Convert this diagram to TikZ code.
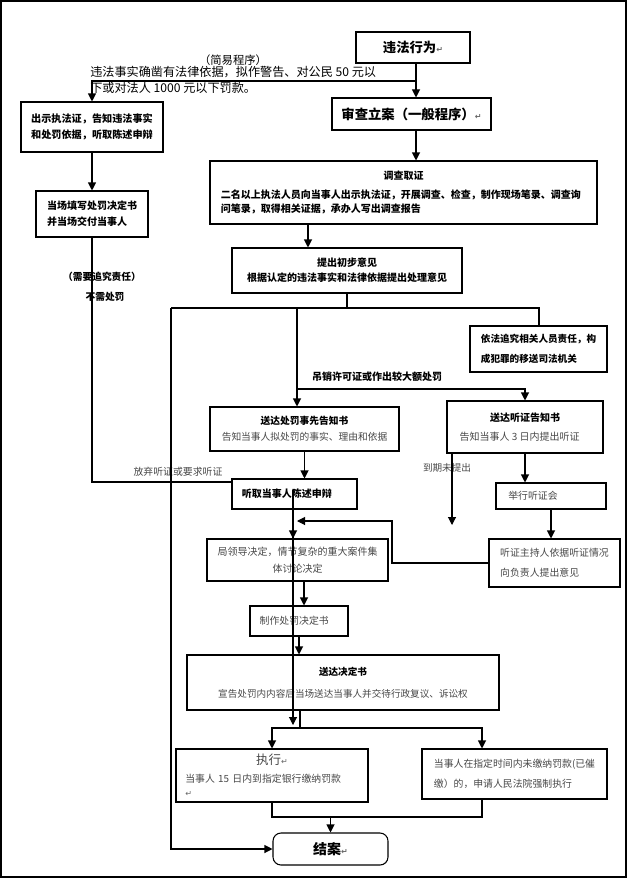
\documentclass[tikz,border=0pt]{standalone}
\usepackage{fontspec}
\setmainfont{Noto Sans CJK SC}
\newfontfamily\dejavu{DejaVu Sans}
\usetikzlibrary{arrows.meta,calc}
\newcommand\fsz[2]{\fontsize{#1}{#2}\selectfont}
\newcommand\retmk{{\dejavu\fontsize{6}{6}\selectfont\textcolor{black!60}{↵}}}
\begin{document}
\begin{tikzpicture}[x=0.75pt,y=-0.75pt,
  box/.style={draw, line width=0.8pt, inner sep=0pt, rectangle},
  spans/.style n args={4}{minimum width={(#3-#1)*0.75pt}, minimum height={(#4-#2)*0.75pt}, at={({(#1+#3)/2},{(#2+#4)/2})}},
  conn/.style={line width=0.8pt},
  arr/.style={conn, -{Triangle[length=6pt,width=6pt]}},
  lab/.style={inner sep=0pt},
  lite/.style={text=black!72},
  ]
\useasboundingbox (0,0) rectangle (630,881);
\draw[line width=0.8pt] (1,1) rectangle (626,877);

% boxes
\node[box, spans={356}{32}{470}{63}, font=\bfseries\fsz{10}{12}] (n1) {违法行为\retmk};
\node[box, spans={332}{98}{491}{130}, font=\bfseries\fsz{10}{12}] (n2) {审查立案（一般程序）\retmk};
\node[box, spans={210}{161}{597}{224}, font=\bfseries\fsz{7.5}{10.5}, text width=274pt, align=left] (n3)
  {\makebox[\linewidth]{调查取证}\\[3.5pt]二名以上执法人员向当事人出示执法证，开展调查、检查，制作现场笔录、调查询\\问笔录，取得相关证据，承办人写出调查报告};
\node[box, spans={232}{248}{462}{293}, font=\bfseries\fsz{7.5}{11.25}, align=center] (n4)
  {提出初步意见\\根据认定的违法事实和法律依据提出处理意见};
\node[box, spans={21}{102}{163}{152}, font=\bfseries\fsz{7.6}{12}, align=center] (n5)
  {出示执法证，告知违法事实\\和处罚依据，听取陈述申辩};
\node[box, spans={36}{191}{148}{237}, font=\bfseries\fsz{7.5}{12}, align=left] (n6)
  {当场填写处罚决定书\\并当场交付当事人};
\node[box, spans={470}{326}{607}{372}, font=\bfseries\fsz{7.2}{15}, align=left] (n7)
  {依法追究相关人员责任，构\\成犯罪的移送司法机关};
\node[box, spans={210}{407}{399}{451}, font=\fsz{7.3}{12}, align=center] (n8)
  {{\bfseries 送达处罚事先告知书}\\{\color{black!72}告知当事人拟处罚的事实、理由和依据}};
\node[box, spans={447}{401}{603}{453}, font=\fsz{7.5}{14.25}, align=center] (n9)
  {{\bfseries 送达听证告知书}\\{\color{black!72}告知当事人 3 日内提出听证\hspace*{8pt}}};
\node[box, spans={232}{479}{357}{509}, font=\bfseries\fsz{7.5}{10}, text width=79pt, align=left] (n10)
  {听取当事人陈述申辩};
\node[box, spans={207}{539}{388}{581}, font=\fsz{7.5}{12.75}, lite, align=center] (n11)
  {局领导决定，情节复杂的重大案件集\\体讨论决定};
\node[box, spans={250}{606}{348}{636}, font=\fsz{7.4}{10}, lite, text width=59pt, align=left] (n12)
  {制作处罚决定书};
\node[box, spans={496}{483}{606}{509}, font=\fsz{7.4}{10}, lite, text width=64pt, align=left] (n13)
  {举行听证会};
\node[box, spans={489}{539}{620}{587}, font=\fsz{7.4}{15}, lite, align=left] (n14)
  {听证主持人依据听证情况\\向负责人提出意见};
\node[box, spans={187}{655}{499}{710}, font=\fsz{7.2}{16.5}, align=center] (n15)
  {{\bfseries 送达决定书}\\{\color{black!72}宣告处罚内内容后当场送达当事人并交待行政复议、诉讼权}};
\node[box, spans={176}{749}{368}{802}, font=\fsz{7.4}{10.5}, lite, text width=130pt, align=left] (n16)
  {\makebox[\linewidth]{\fsz{9.4}{11}执行\retmk}\\[3pt]当事人 15 日内到指定银行缴纳罚款\\\retmk};
\node[box, spans={422}{749}{607}{799}, font=\fsz{7.4}{15}, lite, align=left] (n17)
  {当事人在指定时间内未缴纳罚款(已催\\缴）的，申请人民法院强制执行};
\node[box, rounded corners=6pt, spans={273}{833}{388}{865}, font=\bfseries\fsz{10.5}{12}] (n18) {结案\retmk};

% labels
\node[lab, font=\fsz{8.5}{10}] (l1) at (233,60) {（简易程序）};
\node[lab, font=\fsz{9.1}{12}, anchor=west, align=left] (l2) at (90,80)
  {违法事实确凿有法律依据，拟作警告、对公民 50 元以\\下或对法人 1000 元以下罚款。};
\node[lab, font=\bfseries\fsz{7.3}{9}] (l3) at (102,277) {（需要追究责任）};
\node[lab, font=\bfseries\fsz{7.3}{9}] (l4) at (105,297) {不需处罚};
\node[lab, font=\bfseries\fsz{7.5}{9}] (l5) at (377,377) {吊销许可证或作出较大额处罚};
\node[lab, lite, font=\fsz{7.4}{9}] (l6) at (178,472) {放弃听证或要求听证};
\node[lab, lite, font=\fsz{7.2}{9}] (l7) at (447,468) {到期未提出};

% connectors
\coordinate (xA) at (416,0);
\draw[arr] (n1.south -| xA) -- (n2.north -| xA);
\coordinate (j1) at (416,81);
\draw[arr] (j1) -| (n5.north);
\draw[arr] (n2.south -| xA) -- (n3.north -| xA);
\draw[arr] (n5.south) -- (n6.north);
\coordinate (yC) at (0,482);
\draw[conn] (n6.south) |- (n10.west |- yC);
\coordinate (xB) at (308,0);
\draw[arr] (n3.south -| xB) -- (n4.north -| xB);
\coordinate (L1) at (171,308);
\coordinate (R1) at (539,308);
\draw[conn] (n4.south) -- (n4.south |- R1);
\draw[conn] (L1) -- (R1) -- (R1 |- n7.north);
\draw[arr] (L1) |- (n18.west);
\coordinate (xE) at (297,0);
\draw[arr] (xE |- R1) -- (n8.north -| xE);
\coordinate (j2) at (297,389);
\draw[arr] (j2) -| (n9.north);
\draw[arr] (n8.south) -- (n8.south |- n10.north);
\coordinate (xF) at (293,0);
\draw[arr] (n10.south -| xF) -- (n11.north -| xF);
\coordinate (s1) at (293,490);
\coordinate (s2) at (293,725);
\draw[arr] (s1) -- (s2);
\coordinate (xH) at (304,0);
\draw[arr] (n11.south -| xH) -- (n12.north -| xH);
\draw[arr] (n12.south) -- (n12.south |- n15.north);
\coordinate (m1) at (300,728);
\coordinate (m1R) at (482,728);
\draw[conn] (n15.south -| m1) -- (m1);
\draw[arr] (m1) -| (n16.north);
\draw[arr] (m1) -- (m1R) -- (n17.north -| m1R);
\draw[arr] (n9.south) -- (n9.south |- n13.north);
\draw[arr] (n13.south) -- (n13.south |- n14.north);
\coordinate (e1) at (452,525);
\draw[arr] (n9.south -| e1) -- (e1);
\coordinate (f1) at (392,521);
\coordinate (f2) at (297,521);
\draw[arr] (n14.west) -| (f1) -- (f2);
\coordinate (g1) at (482,817);
\draw[conn] (n16.south) |- (g1) -- (n17.south -| g1);
\draw[arr] (n18.north |- g1) -- (n18.north);
\end{tikzpicture}
\end{document}
